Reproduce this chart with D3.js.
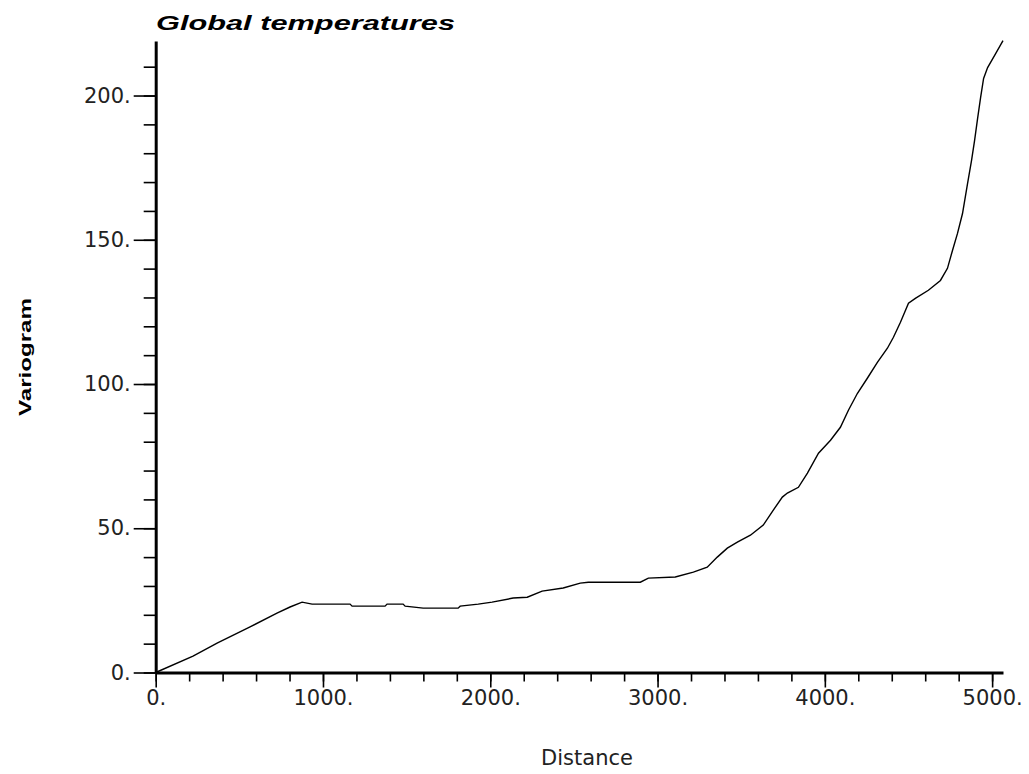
<!DOCTYPE html>
<html>
<head>
<meta charset="utf-8">
<script src="https://cdn.jsdelivr.net/npm/d3@7"></script>
<style>
  html, body { margin: 0; padding: 0; background: #fff; }
  svg { display: block; }
</style>
</head>
<body>
<div id="chart"></div>
<script>
// ---- data ----
const distance = [0, 223, 367, 564, 725, 803, 875, 935, 1162, 1174, 1371, 1383, 1479, 1491, 1599, 1808,
  1820, 1928, 2011, 2137, 2221, 2310, 2436, 2538, 2586, 2897, 2945, 3106, 3214, 3297, 3357, 3417,
  3477, 3555, 3632, 3692, 3746, 3776, 3842, 3896, 3962, 4034, 4093, 4141, 4195, 4254, 4314, 4374,
  4410, 4452, 4500, 4541, 4619, 4691, 4733, 4763, 4793, 4823, 4853, 4877, 4895, 4913, 4931, 4949,
  4973, 5021, 5065];
const variogram = [0, 5.7, 10.2, 15.8, 20.6, 22.7, 24.4, 23.7, 23.7, 23.0, 23.0, 23.7, 23.7, 23.0, 22.3, 22.3,
  23.0, 23.7, 24.4, 25.8, 26.1, 28.2, 29.3, 31.0, 31.3, 31.3, 32.7, 33.1, 34.8, 36.5, 40.0, 43.1,
  45.2, 47.6, 51.1, 56.3, 60.8, 62.2, 64.2, 69.1, 76.0, 80.5, 85.0, 90.9, 96.8, 102.0, 107.5, 112.4,
  116.2, 121.4, 128.0, 129.7, 132.5, 135.9, 140.1, 146.3, 152.2, 159.1, 169.5, 177.5, 184.4, 192.0, 199.3, 205.9,
  209.7, 214.5, 219.0];
const xMajorTicks = [0, 1000, 2000, 3000, 4000, 5000];
const xMinorTicks = d3.range(0, 5001, 200);
const yMajorTicks = [0, 50, 100, 150, 200];
const yMinorTicks = d3.range(0, 211, 10);
const titleText = "Global temperatures";
const xLabel = "Distance";
const yLabel = "Variogram";

// ---- layout ----
const W = 1029, H = 774;
const x = d3.scaleLinear().domain([0, 5065]).range([155.7, 1003]);
const y = d3.scaleLinear().domain([0, 218.9]).range([672.5, 41]);

const svg = d3.select("#chart").append("svg")
  .attr("width", W).attr("height", H)
  .attr("viewBox", `0 0 ${W} ${H}`);

const fmt = d => d + ".";
const tickFont = "'DejaVu Sans', sans-serif";

// x axis minor
svg.append("g")
  .attr("transform", `translate(0,${y(0)})`)
  .call(d3.axisBottom(x).tickValues(xMinorTicks).tickSize(9).tickSizeOuter(0).tickFormat(""))
  .call(g => g.select(".domain").remove())
  .call(g => g.selectAll("line").attr("stroke", "#000").attr("stroke-width", 1.6));

// x axis major
svg.append("g")
  .attr("transform", `translate(0,${y(0)})`)
  .call(d3.axisBottom(x).tickValues(xMajorTicks).tickSize(15).tickSizeOuter(0).tickPadding(3).tickFormat(fmt))
  .call(g => g.select(".domain").attr("stroke", "#000").attr("stroke-width", 3))
  .call(g => g.selectAll("line").attr("stroke", "#000").attr("stroke-width", 1.6))
  .call(g => g.selectAll("text").attr("fill", "#222").style("font-family", tickFont).style("font-size", "21px"));

// y axis minor
svg.append("g")
  .attr("transform", `translate(${x(0)},0)`)
  .call(d3.axisLeft(y).tickValues(yMinorTicks).tickSize(12).tickSizeOuter(0).tickFormat(""))
  .call(g => g.select(".domain").remove())
  .call(g => g.selectAll("line").attr("stroke", "#000").attr("stroke-width", 1.6));

// y axis major
svg.append("g")
  .attr("transform", `translate(${x(0)},0)`)
  .call(d3.axisLeft(y).tickValues(yMajorTicks).tickSize(22).tickSizeOuter(0).tickPadding(3).tickFormat(fmt))
  .call(g => g.select(".domain").attr("stroke", "#000").attr("stroke-width", 3))
  .call(g => g.selectAll("line").attr("stroke", "#000").attr("stroke-width", 1.6))
  .call(g => g.selectAll("text").attr("fill", "#222").style("font-family", tickFont).style("font-size", "21px"));

// curve
const pts = distance.map((d, i) => [d, variogram[i]]);
svg.append("path")
  .datum(pts)
  .attr("fill", "none")
  .attr("stroke", "#000")
  .attr("stroke-width", 1.4)
  .attr("d", d3.line().x(d => x(d[0])).y(d => y(d[1])));

// title
svg.append("text")
  .attr("x", 156).attr("y", 30)
  .attr("textLength", 299).attr("lengthAdjust", "spacingAndGlyphs")
  .style("font-family", "'Liberation Sans', Arial, sans-serif")
  .style("font-weight", "bold").style("font-style", "italic")
  .style("font-size", "20px")
  .text(titleText);

// x label
svg.append("text")
  .attr("x", 587).attr("y", 765)
  .attr("text-anchor", "middle")
  .attr("fill", "#222")
  .style("font-family", tickFont)
  .style("font-size", "21px")
  .text(xLabel);

// y label
svg.append("text")
  .attr("transform", "translate(31,357) rotate(-90)")
  .attr("text-anchor", "middle")
  .attr("textLength", 118).attr("lengthAdjust", "spacingAndGlyphs")
  .style("font-family", "'Liberation Sans', Arial, sans-serif")
  .style("font-weight", "bold")
  .style("font-size", "17px")
  .text(yLabel);
</script>
</body>
</html>
